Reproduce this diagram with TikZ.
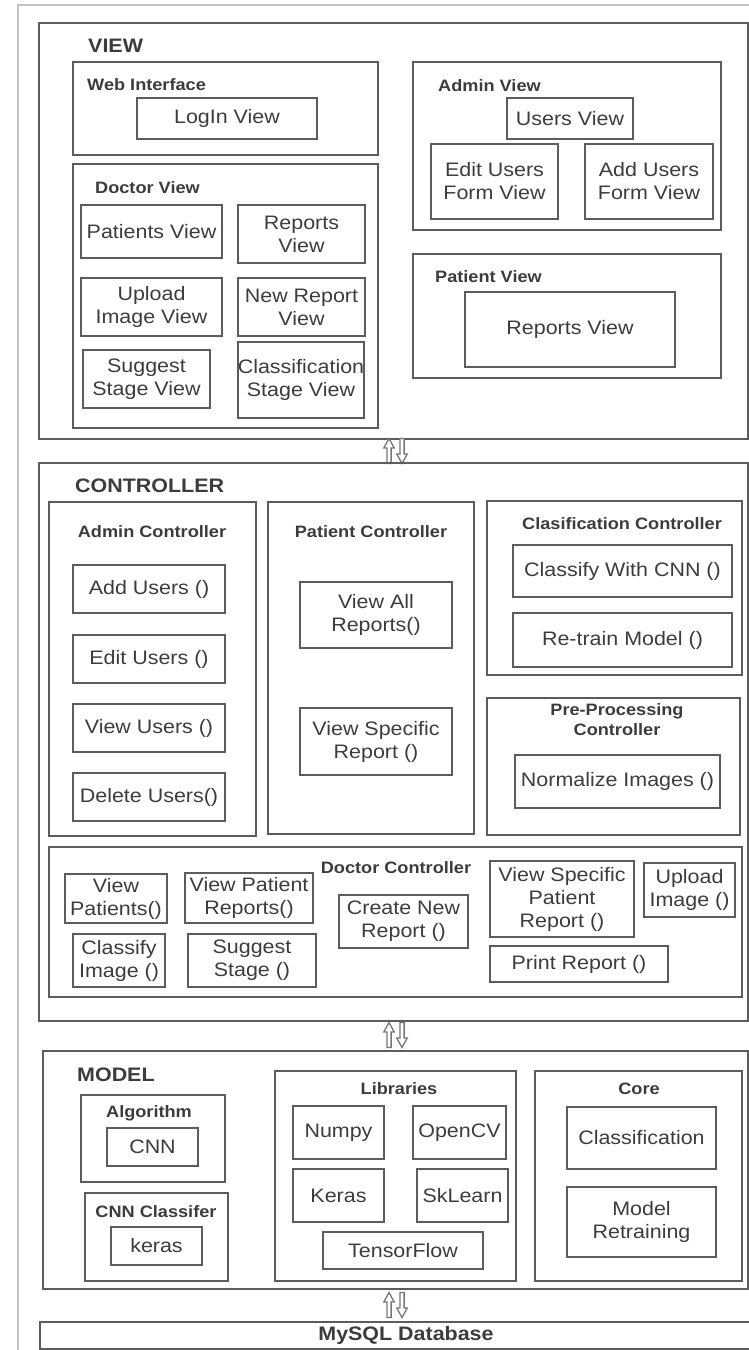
\documentclass[tikz,border=0pt]{standalone}
\usepackage{fontspec}
\setmainfont{Liberation Sans}[FakeStretch=1.1]
\definecolor{linec}{HTML}{5C5C5C}
\definecolor{txtc}{HTML}{3C3C3C}
\definecolor{arrc}{HTML}{777777}
\definecolor{outerc}{HTML}{C4C4C4}
\tikzset{
  box/.style={draw=linec, line width=1.8pt, inner sep=0pt, align=center,
    font=\fontsize{19.5}{23}\selectfont, text=txtc},
  hdr/.style={font=\bfseries\fontsize{19.5}{23}\selectfont, text=txtc, inner sep=0pt},
  sub/.style={font=\bfseries\fontsize{16.5}{20}\selectfont, text=txtc, inner sep=0pt, align=center},
  arrline/.style={draw=arrc, fill=white, line width=1.3pt, line join=miter},
  uparrow/.pic={\draw[arrline] (0,-12.5) -- (5.2,-3) -- (2.1,-3) -- (2.1,12.5) -- (-2.1,12.5) -- (-2.1,-3) -- (-5.2,-3) -- cycle;},
  dnarrow/.pic={\draw[arrline] (0,12.5) -- (5.2,3) -- (2.1,3) -- (2.1,-12.5) -- (-2.1,-12.5) -- (-2.1,3) -- (-5.2,3) -- cycle;},
  outer/.style={draw=outerc, line width=1.5pt}
}
\newcommand\mkbox[6]{\node[box, minimum width={(#4-#2)*1pt}, minimum height={(#5-#3)*1pt}] (#1) at ({(#2+#4)/2},{(#3+#5)/2}) {#6};}
\begin{document}
\begin{tikzpicture}[x=1pt,y=-1pt]
\useasboundingbox (0,0) rectangle (749,1350);
\clip (0,0) rectangle (749,1350);
\draw[outer] (18,1360) -- (18,5) -- (760,5);
% VIEW
\mkbox{view}{39}{23}{748}{439}{}
\node[hdr, anchor=west] (viewlbl) at (88,46) {VIEW};
\mkbox{web}{73}{62}{378}{155}{}
\node[sub, anchor=west] (weblbl) at (87,85) {Web Interface};
\mkbox{login}{137}{98}{317}{139}{LogIn View}
\mkbox{doc}{73}{164}{378}{428}{}
\node[sub, anchor=west] (doclbl) at (95,188) {Doctor View};
\mkbox{patv}{81}{205}{222}{258}{Patients View}
\mkbox{repv}{238}{205}{365}{263}{Reports\\View}
\mkbox{upv}{81}{278}{222}{336}{Upload\\Image View}
\mkbox{newv}{238}{278}{365}{336}{New Report\\View}
\mkbox{sugv}{83}{350}{210}{408}{Suggest\\Stage View}
\mkbox{clsv}{238}{342}{364}{418}{Classification\\Stage View}
\mkbox{adm}{413}{62}{721}{230}{}
\node[sub, anchor=west] (admlbl) at (438,86) {Admin View};
\mkbox{usv}{507}{98}{633}{139}{Users View}
\mkbox{editv}{431}{144}{558}{219}{Edit Users\\Form View}
\mkbox{addv}{585}{144}{713}{219}{Add Users\\Form View}
\mkbox{pv}{413}{254}{721}{378}{}
\node[sub, anchor=west] (pvlbl) at (435,277) {Patient View};
\mkbox{prep}{465}{292}{675}{367}{Reports View}
% arrows view-controller
\coordinate (a1u) at (389,451);
\coordinate (a1d) at (402,451);
\pic at (a1u) {uparrow};
\pic at (a1d) {dnarrow};
% CONTROLLER
\mkbox{ctrl}{39}{463}{748}{1021}{}
\node[hdr, anchor=west] (ctrllbl) at (75,486) {CONTROLLER};
\mkbox{actl}{49}{502}{256}{836}{}
\node[sub] (actllbl) at (152,532) {Admin Controller};
\mkbox{addu}{73}{565}{225}{613}{Add Users ()}
\mkbox{editu}{73}{635}{225}{683}{Edit Users ()}
\mkbox{viewu}{73}{704}{225}{752}{View Users ()}
\mkbox{delu}{73}{773}{225}{821}{Delete Users()}
\mkbox{pctl}{268}{502}{474}{834}{}
\node[sub] (pctllbl) at (371,532) {Patient Controller};
\mkbox{vall}{300}{582}{452}{648}{View All\\Reports()}
\mkbox{vspec}{300}{708}{452}{775}{View Specific\\Report ()}
\mkbox{cctl}{487}{501}{742}{675}{}
\node[sub] (cctllbl) at (622,524) {Clasification Controller};
\mkbox{ccnn}{513}{545}{732}{597}{Classify With CNN ()}
\mkbox{retr}{513}{613}{732}{667}{Re-train Model ()}
\mkbox{ppctl}{487}{698}{740}{835}{}
\node[sub] (ppctllbl) at (617,720) {Pre-Processing\\Controller};
\mkbox{norm}{515}{755}{720}{808}{Normalize Images ()}
\mkbox{dctl}{49}{847}{742}{997}{}
\node[sub] (dctllbl) at (396,868) {Doctor Controller};
\mkbox{vpat}{65}{874}{167}{923}{View\\Patients()}
\mkbox{vprep}{185}{873}{313}{923}{View Patient\\Reports()}
\mkbox{climg}{73}{934}{165}{987}{Classify\\Image ()}
\mkbox{sugs}{188}{934}{316}{987}{Suggest\\Stage ()}
\mkbox{cnew}{339}{895}{468}{948}{Create New\\Report ()}
\mkbox{vspr}{490}{861}{634}{937}{View Specific\\Patient\\Report ()}
\mkbox{upimg}{644}{863}{735}{917}{Upload\\Image ()}
\mkbox{prt}{490}{946}{668}{982}{Print Report ()}
% arrows controller-model
\coordinate (a2u) at (389,1035);
\coordinate (a2d) at (402,1035);
\pic at (a2u) {uparrow};
\pic at (a2d) {dnarrow};
% MODEL
\mkbox{model}{43}{1051}{748}{1289}{}
\node[hdr, anchor=west] (modellbl) at (77,1075) {MODEL};
\mkbox{alg}{81}{1095}{225}{1182}{}
\node[sub] (alglbl) at (149,1113) {Algorithm};
\mkbox{cnn}{107}{1128}{198}{1166}{CNN}
\mkbox{cnncl}{85}{1193}{228}{1281}{}
\node[sub] (cnncllbl) at (156,1212) {CNN Classifer};
\mkbox{keras}{111}{1227}{202}{1265}{keras}
\mkbox{libs}{275}{1071}{516}{1281}{}
\node[sub] (libslbl) at (399,1089) {Libraries};
\mkbox{numpy}{293}{1106}{384}{1159}{Numpy}
\mkbox{kerasl}{293}{1169}{384}{1222}{Keras}
\mkbox{opencv}{413}{1106}{506}{1159}{OpenCV}
\mkbox{sklearn}{417}{1169}{508}{1222}{SkLearn}
\mkbox{tf}{323}{1232}{483}{1269}{TensorFlow}
\mkbox{core}{535}{1071}{742}{1281}{}
\node[sub] (corelbl) at (639,1089) {Core};
\mkbox{clsf}{567}{1107}{716}{1169}{Classification}
\mkbox{mret}{567}{1187}{716}{1257}{Model\\Retraining}
% arrows model-db
\coordinate (a3u) at (389,1305);
\coordinate (a3d) at (402,1305);
\pic at (a3u) {uparrow};
\pic at (a3d) {dnarrow};
% DB
\mkbox{db}{40}{1322}{760}{1349}{}
\node[hdr] (dblbl) at (406,1335) {MySQL Database};
\end{tikzpicture}
\end{document}
